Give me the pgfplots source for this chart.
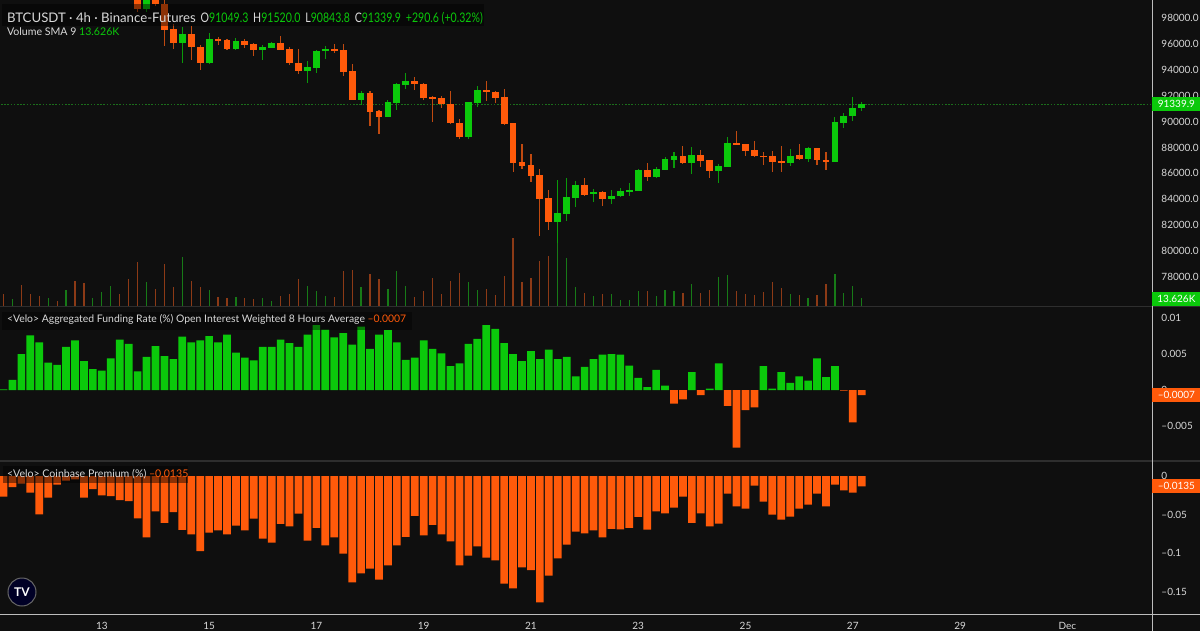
\documentclass[border=0pt]{standalone}
\usepackage{fontspec}
\setmainfont{Lato}
\usepackage{pgfplots}
\usepackage{pgfplotstable}
\pgfplotsset{compat=1.18}
\definecolor{bg}{HTML}{0F0F0F}
\definecolor{upc}{HTML}{0BC90B}
\definecolor{dnc}{HTML}{FF5A0A}
\definecolor{upw}{HTML}{0A9A0A}
\definecolor{dnw}{HTML}{C04A10}
\definecolor{volup}{HTML}{177A17}
\definecolor{voldn}{HTML}{8C3A16}
\definecolor{txt}{HTML}{D9D9D9}
\definecolor{sep}{HTML}{2E2E2E}
\definecolor{axl}{HTML}{BDBDBD}
\definecolor{pline}{HTML}{1B6E1B}

\pgfplotstableread{
i o h l c v
0 105900 106300 105200 105400 11.1
1 105400 105900 105100 105700 6.3
2 105700 105900 104600 104800 18.9
3 104800 105000 103900 104100 10.8
4 104100 104300 103300 103500 9.3
5 103500 104200 103300 104000 7.5
6 104000 104200 103200 103400 4.8
7 103400 105100 103300 104900 14.7
8 104900 105200 103100 103300 22.5
9 103300 103500 101700 101900 20.7
10 101900 102600 101500 102400 7.2
11 102400 103300 102100 103000 12.6
12 103000 104000 102800 103800 18.3
13 103800 104100 102500 102700 10.5
14 102700 102900 100400 100600 24.3
15 100600 101000 98500 98700 39.9
16 98700 99900 98450 99780 21.9
17 99780 100200 98930 99080 15.3
18 99080 99390 95840 97070 38.1
19 97130 97540 95580 96090 17.1
20 96090 97280 94550 96770 44.1
21 96770 97380 94760 95740 22.5
22 95740 95920 93990 94500 17.1
23 94500 96820 94450 96360 14.7
24 96380 96560 95920 96250 7.8
25 96300 96350 95500 95580 7.2
26 95580 96430 95530 96220 7.8
27 96250 96360 95710 95890 7.2
28 95970 96050 95070 95530 6.3
29 95530 95920 94760 95760 7.2
30 95710 96170 95660 96090 4.8
31 96090 96610 95500 95530 9.3
32 95580 95780 94370 94500 10.8
33 94550 95580 93680 93910 24.3
34 93910 94700 92960 94240 18.3
35 94160 95530 93780 95480 13.5
36 95430 95840 94830 95610 9.3
37 95580 96020 95270 95480 8.1
38 95530 96020 93520 93850 31.5
39 93930 94430 91640 91670 32.1
40 91670 92390 91280 92190 17.1
41 92190 92390 89680 90760 29.1
42 90820 90900 89040 90380 24.3
43 90380 91650 90340 91540 15.3
44 91460 93000 90900 92880 31.5
45 92830 93790 92520 93160 18.0
46 93160 93420 92440 92880 8.4
47 92900 92950 91670 91850 13.5
48 91880 91980 89990 91750 24.9
49 91850 91980 91070 91340 10.8
50 91380 92360 89830 89870 22.5
51 89920 90180 88630 88830 29.4
52 88810 91540 88630 91510 21.9
53 91460 92750 91150 92440 14.4
54 92440 93160 91610 92260 15.3
55 92310 92340 91410 91850 9.9
56 91900 92490 89760 89790 27.3
57 89870 89900 86130 86830 60.9
58 86880 88250 86320 86570 21.3
59 86650 87500 85360 85800 24.9
60 85880 86320 81170 84000 40.5
61 84080 84720 81630 82270 45.0
62 82270 85490 80650 82920 63.0
63 82870 85620 82320 84200 42.9
64 84120 85410 83430 85100 17.1
65 85100 85670 84260 84330 11.4
66 84410 84800 83820 84590 9.3
67 84540 84640 83510 84050 11.1
68 84050 84720 83640 84290 10.5
69 84260 84900 84200 84640 5.7
70 84560 85280 84260 84740 5.7
71 84660 86320 84620 86260 13.8
72 86260 86830 85410 85720 13.8
73 85720 86470 85670 86340 9.3
74 86260 87240 86240 87090 14.7
75 87040 87680 86440 87310 13.5
76 87340 88120 86690 86780 12.0
77 86780 88060 85970 87440 19.8
78 87440 87810 86470 86980 12.0
79 87020 87060 85680 86210 14.1
80 86210 86750 85280 86570 25.8
81 86520 88810 86480 88320 27.9
82 88320 89240 88180 88210 13.5
83 88250 88270 87370 87750 10.8
84 87810 88500 87290 87340 9.9
85 87380 87630 86660 87270 12.9
86 87340 87750 86110 86880 21.3
87 86960 88120 86130 86830 16.5
88 86830 87870 86570 87370 10.5
89 87400 88260 87060 87090 9.9
90 87090 88020 86900 87940 7.5
91 87940 87960 86650 87010 9.9
92 87070 87680 86260 86900 19.8
93 86900 90380 86880 89970 29.1
94 89920 90690 89480 90460 11.4
95 90430 91880 90050 91070 18.0
96 91049.3 91520 90843.8 91339.9 7.5
}\candles

\pgfplotstableread{
i f
0 0.0001
1 0.0014
2 0.0050
3 0.0076
4 0.0066
5 0.0038
6 0.0035
7 0.0060
8 0.0069
9 0.0040
10 0.0029
11 0.0027
12 0.0044
13 0.0070
14 0.0064
15 0.0026
16 0.0046
17 0.0061
18 0.0047
19 0.0043
20 0.0074
21 0.0066
22 0.0069
23 0.0075
24 0.0066
25 0.0077
26 0.0052
27 0.0045
28 0.0041
29 0.0060
30 0.0060
31 0.0070
32 0.0065
33 0.0060
34 0.0077
35 0.0090
36 0.0084
37 0.0073
38 0.0079
39 0.0063
40 0.0088
41 0.0057
42 0.0077
43 0.0083
44 0.0066
45 0.0042
46 0.0045
47 0.0069
48 0.0057
49 0.0051
50 0.0033
51 0.0037
52 0.0064
53 0.0071
54 0.0090
55 0.0085
56 0.0065
57 0.0050
58 0.0040
59 0.0054
60 0.0043
61 0.0056
62 0.0043
63 0.0046
64 0.0019
65 0.0032
66 0.0043
67 0.0049
68 0.0050
69 0.0049
70 0.0034
71 0.0017
72 0.0004
73 0.0028
74 0.0006
75 -0.0019
76 -0.0013
77 0.0025
78 -0.0007
79 0.0002
80 0.0037
81 -0.0022
82 -0.0080
83 -0.0028
84 -0.0024
85 0.0033
86 0.0002
87 0.0025
88 0.0010
89 0.0019
90 0.0013
91 0.0044
92 0.0018
93 0.0033
94 -0.0001
95 -0.0045
96 -0.0007
}\funding

\pgfplotstableread{
i p
0 -0.0268
1 -0.0143
2 -0.0095
3 -0.0216
4 -0.0498
5 -0.0281
6 -0.0113
7 -0.0061
8 -0.0043
9 -0.0281
10 -0.0169
11 -0.0251
12 -0.0260
13 -0.0312
14 -0.0325
15 -0.0550
16 -0.0797
17 -0.0459
18 -0.0610
19 -0.0468
20 -0.0701
21 -0.0758
22 -0.0974
23 -0.0736
24 -0.0706
25 -0.0758
26 -0.0645
27 -0.0706
28 -0.0554
29 -0.0814
30 -0.0866
31 -0.0623
32 -0.0654
33 -0.0489
34 -0.0840
35 -0.0675
36 -0.0900
37 -0.0797
38 -0.1009
39 -0.1381
40 -0.1264
41 -0.1203
42 -0.1346
43 -0.1160
44 -0.0900
45 -0.0792
46 -0.0519
47 -0.0771
48 -0.0636
49 -0.0758
50 -0.0848
51 -0.1160
52 -0.1035
53 -0.0913
54 -0.1061
55 -0.1095
56 -0.1398
57 -0.1459
58 -0.1186
59 -0.1221
60 -0.1641
61 -0.1294
62 -0.1069
63 -0.0892
64 -0.0723
65 -0.0745
66 -0.0706
67 -0.0797
68 -0.0688
69 -0.0693
70 -0.0675
71 -0.0532
72 -0.0697
73 -0.0459
74 -0.0485
75 -0.0411
76 -0.0268
77 -0.0610
78 -0.0485
79 -0.0654
80 -0.0619
81 -0.0229
82 -0.0394
83 -0.0424
84 -0.0126
85 -0.0333
86 -0.0502
87 -0.0567
88 -0.0528
89 -0.0424
90 -0.0372
91 -0.0229
92 -0.0394
93 -0.0113
94 -0.0186
95 -0.0216
96 -0.0135
}\premium

\pgfplotsset{
  pane/.style={
    scale only axis, width=576pt, xmin=-0.3915, xmax=128.47,
    anchor=north west, axis line style={draw=none},
    major tick length=0pt, xtick=\empty,
    scaled y ticks=false, scaled x ticks=false,
    yticklabel pos=right,
    y tick label style={font=\fontsize{5}{6}\selectfont, text=txt, anchor=west, xshift=1.2pt},
    clip=true,
  },
}

\begin{document}
\begin{tikzpicture}
\useasboundingbox (0,0) rectangle (600pt,-315.5pt);
\fill[bg] (0,0) rectangle (600pt,-315.5pt);

% volume
\begin{axis}[pane, at={(0pt,0pt)}, height=153pt, ymin=0, ymax=275.4, ytick=\empty]
\addplot[ycomb, no marks, draw=volup, line width=0.6pt,
  restrict expr to domain={\thisrow{c}-\thisrow{o}}{0:1000000}]
  table[x=i, y=v] {\candles};
\addplot[ycomb, no marks, draw=voldn, line width=0.6pt,
  restrict expr to domain={\thisrow{c}-\thisrow{o}}{-1000000:-0.01}]
  table[x=i, y=v] {\candles};
\end{axis}

% price
\begin{axis}[pane, at={(0pt,0pt)}, height=153pt, ymin=75760, ymax=99390,
  ytick={78000,80000,...,98000},
  yticklabels={78000.0,80000.0,82000.0,84000.0,86000.0,88000.0,90000.0,92000.0,94000.0,96000.0,98000.0}]
\addplot[pline, line width=0.5pt, dash pattern=on 0.8pt off 0.8pt] coordinates {(-1,91339.9) (130,91339.9)};
% wicks
\addplot[draw=none, mark=none, forget plot,
  restrict expr to domain={\thisrow{c}-\thisrow{o}}{0:1000000},
  error bars/.cd, y dir=both, y explicit, error mark=none,
  error bar style={draw=upw, line width=0.55pt}]
  table[x=i, y expr={(\thisrow{h}+\thisrow{l})/2}, y error expr={(\thisrow{h}-\thisrow{l})/2}] {\candles};
\addplot[draw=none, mark=none, forget plot,
  restrict expr to domain={\thisrow{c}-\thisrow{o}}{-1000000:-0.01},
  error bars/.cd, y dir=both, y explicit, error mark=none,
  error bar style={draw=dnw, line width=0.55pt}]
  table[x=i, y expr={(\thisrow{h}+\thisrow{l})/2}, y error expr={(\thisrow{h}-\thisrow{l})/2}] {\candles};
% bodies
\addplot[draw=none, mark=none, forget plot,
  restrict expr to domain={\thisrow{c}-\thisrow{o}}{0:1000000},
  error bars/.cd, y dir=both, y explicit, error mark=none,
  error bar style={draw=upc, line width=3.4pt}]
  table[x=i, y expr={(\thisrow{o}+\thisrow{c})/2}, y error expr={max(abs(\thisrow{c}-\thisrow{o})/2,40)}] {\candles};
\addplot[draw=none, mark=none, forget plot,
  restrict expr to domain={\thisrow{c}-\thisrow{o}}{-1000000:-0.01},
  error bars/.cd, y dir=both, y explicit, error mark=none,
  error bar style={draw=dnc, line width=3.4pt}]
  table[x=i, y expr={(\thisrow{o}+\thisrow{c})/2}, y error expr={max(abs(\thisrow{c}-\thisrow{o})/2,40)}] {\candles};
\end{axis}

% funding
\begin{axis}[pane, at={(0pt,-153.5pt)}, height=77pt, ymin=-0.009861, ymax=0.011528,
  ytick={-0.005,0,0.005,0.01}, yticklabels={–0.005,0,0.005,0.01}]
\addplot[ybar, bar width=0.86, bar shift=0pt, fill=upc, draw=none,
  restrict y to domain=0:1] table[x=i, y=f] {\funding};
\addplot[ybar, bar width=0.86, bar shift=0pt, fill=dnc, draw=none,
  restrict y to domain=-1:-0.00001] table[x=i, y=f] {\funding};
\end{axis}

% coinbase premium
\begin{axis}[pane, at={(0pt,-231pt)}, height=76pt, ymin=-0.17922, ymax=0.01818,
  ytick={-0.15,-0.1,-0.05,0}, yticklabels={–0.15,–0.1,–0.05,0},
  xtick={11,23,35,47,59,71,83,95,107,119},
  xticklabels={13,15,17,19,21,23,25,27,29,Dec},
  x tick label style={font=\fontsize{5}{6}\selectfont, text=txt, yshift=-0.6pt}]
\addplot[ybar, bar width=0.86, bar shift=0pt, fill=dnc, draw=none] table[x=i, y=p] {\premium};
\end{axis}

% separators and axis lines
\draw[sep, line width=0.6pt] (0,-153.25pt) -- (600pt,-153.25pt);
\draw[sep, line width=0.6pt] (0,-230.5pt) -- (600pt,-230.5pt);
\draw[axl, line width=0.7pt] (0,-307.2pt) -- (600pt,-307.2pt);
\draw[axl, line width=0.5pt] (576pt,0) -- (576pt,-315.5pt);

% price tags
\node[fill=upc, text=white, font=\fontsize{5}{6}\selectfont, inner sep=0pt, minimum width=24pt, minimum height=7pt, anchor=west] at (576pt,-52.15pt) {91339.9};
\node[fill=upc, text=white, font=\fontsize{5}{6}\selectfont, inner sep=0pt, minimum width=24pt, minimum height=7pt, anchor=west] at (576pt,-149.3pt) {13.626K};
\node[fill=dnc, text=white, font=\fontsize{5}{6}\selectfont, inner sep=0pt, minimum width=24pt, minimum height=7pt, anchor=west] at (576pt,-197.5pt) {–0.0007};
\node[fill=dnc, text=white, font=\fontsize{5}{6}\selectfont, inner sep=0pt, minimum width=24pt, minimum height=7pt, anchor=west] at (576pt,-243.2pt) {–0.0135};

% legends
\fill[black, opacity=0.45] (1pt,-2pt) rectangle (242pt,-13pt);
\node[anchor=west, inner sep=0pt, font=\fontsize{6.6}{8}\selectfont, text=txt] at (3.3pt,-9pt)
  {BTCUSDT · 4h · Binance-Futures\hspace{2.5pt}\scalebox{0.8}[1]{O\textcolor{upc}{91049.3}\hspace{3pt}H\textcolor{upc}{91520.0}\hspace{3pt}L\textcolor{upc}{90843.8}\hspace{3pt}C\textcolor{upc}{91339.9}\hspace{3pt}\textcolor{upc}{+290.6 (+0.32\%)}}};
\node[anchor=west, inner sep=0pt, font=\fontsize{5.3}{7}\selectfont, text=txt] at (3.3pt,-16pt)
  {Volume SMA 9 \textcolor{upc}{13.626K}};
\fill[black, opacity=0.4] (1pt,-156pt) rectangle (206pt,-165pt);
\node[anchor=west, inner sep=0pt, font=\fontsize{5.2}{7}\selectfont, text=txt] at (3.3pt,-159.5pt)
  {<Velo> Aggregated Funding Rate (\%) Open Interest Weighted 8 Hours Average \textcolor{dnc}{–0.0007}};
\fill[black, opacity=0.45] (1.5pt,-233pt) rectangle (94pt,-241.5pt);
\node[anchor=west, inner sep=0pt, font=\fontsize{5.3}{7}\selectfont, text=txt] at (3.3pt,-237.2pt)
  {<Velo> Coinbase Premium (\%) \textcolor{dnc}{–0.0135}};

% logo
\node[circle, fill=black!85!blue, draw=black!60, line width=0.5pt, minimum size=14pt, inner sep=0pt, text=white, font=\bfseries\fontsize{6}{7}\selectfont] at (11pt,-296pt) {TV};
\end{tikzpicture}
\end{document}
